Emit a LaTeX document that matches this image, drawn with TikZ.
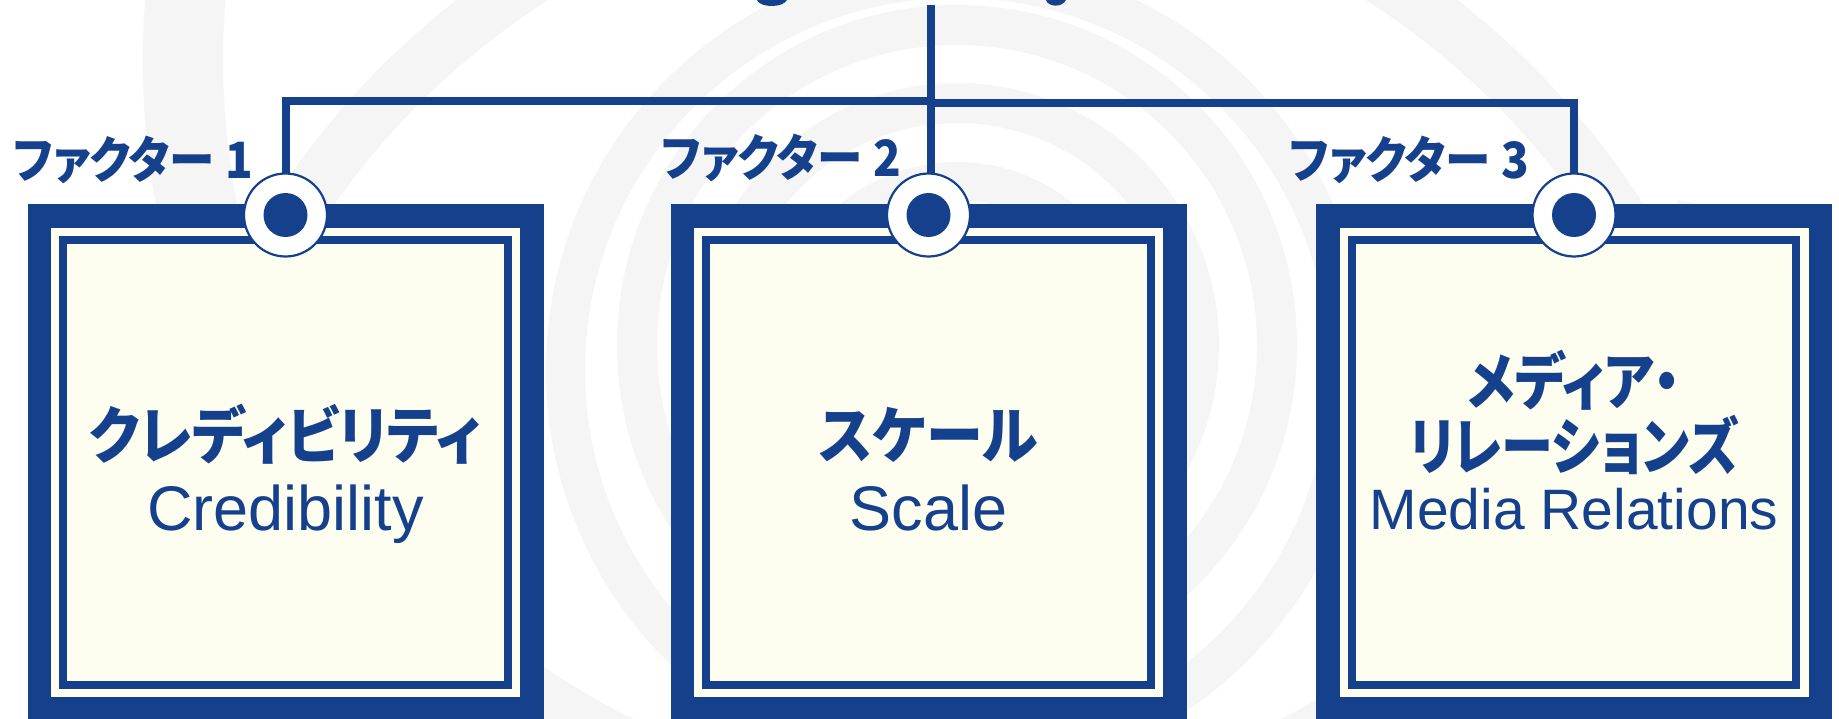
\documentclass[tikz,border=0pt]{standalone}
\usepackage{fontspec}
\newfontfamily\jp[RawFeature=+palt]{Noto Sans CJK JP}
\newfontfamily\arl{Liberation Sans}
\definecolor{nblue}{RGB}{21,64,140}
\definecolor{cream}{RGB}{254,254,240}
\definecolor{ringgray}{RGB}{245,245,245}
\tikzset{
  sq/.style={rectangle, inner sep=0pt, outer sep=0pt},
  conn/.style={draw=nblue, line width=8pt},
  pin/.style={circle, draw=nblue, line width=2.2pt, fill=white, minimum size=83pt, inner sep=0pt, outer sep=0pt},
  dot/.style={circle, fill=nblue, minimum size=44pt, inner sep=0pt},
  flabel/.style={text=nblue, inner sep=0pt, font=\jp\bfseries\fontsize{50}{54}\selectfont},
  jtitle/.style={text=nblue, inner sep=0pt, font=\jp\bfseries\fontsize{62}{68}\selectfont},
  etitle/.style={text=nblue, inner sep=0pt, font=\arl\fontsize{63}{70}\selectfont},
}
\begin{document}
\begin{tikzpicture}[x=1pt,y=-1pt]
\useasboundingbox (0,0) rectangle (1839,719);
\begin{scope}
\clip (0,0) rectangle (1839,719);
\fill[white] (0,0) rectangle (1839,719);
% background rings
\fill[ringgray] (957,60) ++(11:814) arc[start angle=11,end angle=270,radius=814]
  -- ++(0,80) arc[start angle=270,end angle=11,radius=734] -- cycle;
\fill[ringgray,even odd rule] (957,642) circle[radius=814] (957,642) circle[radius=761];
\fill[ringgray,even odd rule] (957,370) circle[radius=411] (957,370) circle[radius=372];
\fill[ringgray,even odd rule] (957,345) circle[radius=340] (957,345) circle[radius=300];
\fill[ringgray,even odd rule] (957,345) circle[radius=262] (957,345) circle[radius=222];
\fill[ringgray,even odd rule] (957,345) circle[radius=183] (957,345) circle[radius=145];
% cut-off title fragments
\fill[nblue] (757,0) .. controls (760,8) and (783,8) .. (787,0) -- cycle;
\fill[nblue] (1046,0) .. controls (1048,7) and (1062,8) .. (1066,0) -- cycle;
% boxes
\foreach \n/\cx in {1/285.5,2/928.5,3/1574}{
  \node[sq, fill=nblue, minimum size=516pt] (b\n) at (\cx,462.5) {};
  \node[sq, fill=cream, minimum size=469pt] (m\n) at (b\n) {};
  \node[sq, draw=nblue, fill=cream, line width=8.4pt, minimum size=444.5pt] (i\n) at (b\n) {};
}
% pins
\foreach \n/\cx in {1/285.5,2/928.5,3/1574}{
  \node[pin] (c\n) at (\cx,215) {};
  \node[dot] (d\n) at (c\n) {};
}
% connectors
\coordinate (top) at (931,5.5);
\coordinate (j1) at (931,101.5);
\coordinate (j2) at (931,103.5);
\draw[conn] (top) -- (top |- c2.north);
\draw[conn] (c1.north) |- (j1);
\draw[conn] (c3.north) |- (j2);
% factor labels
\node[flabel, anchor=base east] (f1) at (253,179) {\scalebox{0.91}[1]{ファクター 1}};
\node[flabel, anchor=base east] (f2) at (901,177) {\scalebox{0.91}[1]{ファクター 2}};
\node[flabel, anchor=base east] (f3) at (1529,179) {\scalebox{0.91}[1]{ファクター 3}};
% titles
\node[jtitle, anchor=base] (t1) at (285.5,458) {\scalebox{0.91}[1]{クレディビリティ}};
\node[etitle, anchor=base] (e1) at (285.5,530) {Credibility};
\node[jtitle, anchor=base] (t2) at (928.5,458) {\scalebox{0.92}[1]{スケール}};
\node[etitle, anchor=base] (e2) at (928.5,530) {Scale};
\node[jtitle, anchor=base] (t3a) at (1574,404) {\scalebox{0.86}[1]{メディア・}};
\node[jtitle, anchor=base] (t3b) at (1574,469) {\scalebox{0.84}[1]{リレーションズ}};
\node[etitle, anchor=base, font=\arl\fontsize{57}{64}\selectfont] (e3) at (1574,529) {Media Relations};
\end{scope}
\end{tikzpicture}
\end{document}
